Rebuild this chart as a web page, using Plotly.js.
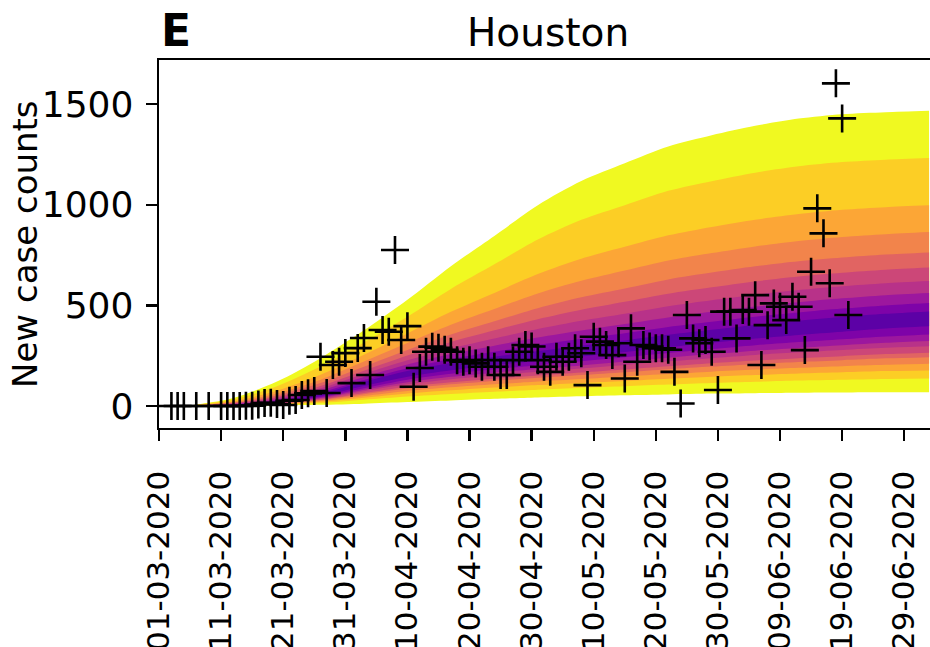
<!DOCTYPE html>
<html><head><meta charset="utf-8">
<script src="https://cdn.plot.ly/plotly-3.0.1.min.js"></script>
<style>html,body{margin:0;padding:0;background:#fff}</style>
</head><body><div id="chart" style="width:930px;height:647px"></div>
<script>
// band sample dates (weekly)
const bandDates = ['2020-03-06','2020-03-13','2020-03-20','2020-03-27','2020-04-03','2020-04-10','2020-04-17','2020-04-24','2020-05-01','2020-05-08','2020-05-15','2020-05-22','2020-05-29','2020-06-05','2020-06-12','2020-06-19','2020-06-26','2020-07-03'];
// upper band edges, outermost (1) to innermost (10)
const upper1 = [3,40,122,238,376,528,695,845,998,1118,1206,1289,1345,1392,1428,1450,1460,1467];
const upper2 = [2.4,32,99,196,316,444,582,704,827,925,998,1069,1117,1159,1191,1212,1224,1232];
const upper3 = [1.9,24,76,155,255,361,468,562,656,732,791,848,890,926,954,975,988,997];
const upper4 = [1.5,20,62,131,221,313,404,482,559,622,673,723,760,793,820,840,854,864];
const upper5 = [1.3,16,53,114,195,278,355,421,486,540,584,629,663,694,719,738,753,763];
const upper6 = [1.1,14,45,100,176,251,318,376,431,478,518,558,590,619,643,662,677,688];
const upper7 = [1.0,11,39,88,159,227,286,336,383,424,459,496,526,553,576,595,610,621];
const upper8 = [0.8,9.4,33,78,144,206,258,300,340,375,407,440,468,494,516,535,551,562];
const upper9 = [0.7,7.7,28,69,130,188,234,270,303,334,362,393,419,444,465,484,500,512];
const upper10 = [0.6,6.3,24,62,120,174,214,245,273,300,326,354,379,403,424,442,458,470];
// lower band edges, outermost (1) to innermost (10)
const lower1 = [0,1,3,6,12,20,28,36,43,49,54,58,62,64,66,67,68,68];
const lower2 = [0.1,1.8,6,15,31,47,60,71,81,91,99,107,115,121,127,131,135,137];
const lower3 = [0.15,2.2,8,21,41,62,78,92,104,115,125,136,146,154,162,168,174,177];
const lower4 = [0.2,2.6,10,25,50,75,93,108,122,134,147,159,171,181,190,198,205,210];
const lower5 = [0.24,2.9,11,30,59,87,108,125,140,154,168,183,196,208,219,228,237,243];
const lower6 = [0.27,3.2,12,32,65,96,118,136,152,167,182,198,213,226,238,248,258,265];
const lower7 = [0.32,3.5,14,37,74,108,133,153,170,187,204,222,238,254,267,279,290,297];
const lower8 = [0.35,3.8,15,40,81,118,145,166,184,202,221,240,258,275,289,302,314,323];
const lower9 = [0.4,4.2,16,45,89,131,160,183,203,222,242,263,283,302,318,332,346,356];
const lower10 = [0.45,4.6,18,50,100,146,178,203,225,246,268,292,314,335,353,369,385,396];
const bandColors = ['#f0f921','#fcce25','#fca636','#f2844b','#e16462','#cc4778','#b83289','#9c179e','#7e03a8','#5c01a6'];

// observed new case counts
const obsDates = ['2020-03-03','2020-03-04','2020-03-05','2020-03-07','2020-03-09',
'2020-03-11','2020-03-12','2020-03-13','2020-03-14','2020-03-15','2020-03-16','2020-03-17','2020-03-18','2020-03-19','2020-03-20',
'2020-03-21','2020-03-22','2020-03-23','2020-03-24','2020-03-25','2020-03-26','2020-03-27','2020-03-28','2020-03-29','2020-03-30','2020-03-31',
'2020-04-01','2020-04-02','2020-04-03','2020-04-04','2020-04-05','2020-04-06','2020-04-07','2020-04-08','2020-04-09','2020-04-10',
'2020-04-11','2020-04-12','2020-04-13','2020-04-14','2020-04-15','2020-04-16','2020-04-17','2020-04-18','2020-04-19','2020-04-20',
'2020-04-21','2020-04-22','2020-04-23','2020-04-24','2020-04-25','2020-04-26','2020-04-27','2020-04-28','2020-04-29','2020-04-30',
'2020-05-01','2020-05-02','2020-05-03','2020-05-04','2020-05-05','2020-05-06','2020-05-07','2020-05-08','2020-05-09','2020-05-10',
'2020-05-11','2020-05-12','2020-05-13','2020-05-14','2020-05-15','2020-05-16','2020-05-17','2020-05-18','2020-05-19','2020-05-20',
'2020-05-21','2020-05-22','2020-05-23','2020-05-24','2020-05-25','2020-05-26','2020-05-27','2020-05-28','2020-05-29','2020-05-30','2020-05-31',
'2020-06-01','2020-06-02','2020-06-03','2020-06-04','2020-06-05','2020-06-06','2020-06-07','2020-06-08','2020-06-09','2020-06-10',
'2020-06-11','2020-06-12','2020-06-13','2020-06-14','2020-06-15','2020-06-16','2020-06-17','2020-06-18','2020-06-19','2020-06-20'];
const obsCases = [0,0,0,0,0,
0,0,0,0,1,2,8,15,16,10,
5,26,30,55,63,75,245,65,204,220,263,
114,288,338,154,518,378,369,775,328,397,
96,189,270,295,290,280,270,228,220,228,
212,195,228,195,154,154,228,270,303,296,
228,195,170,245,220,245,287,262,104,344,
320,303,253,312,137,386,220,303,296,287,
287,280,170,13,452,336,312,328,270,80,469,
469,336,477,469,551,204,402,510,493,427,
543,493,278,667,982,858,610,1603,1429,452];

const tickDates = ['2020-03-01','2020-03-11','2020-03-21','2020-03-31','2020-04-10','2020-04-20','2020-04-30','2020-05-10','2020-05-20','2020-05-30','2020-06-09','2020-06-19','2020-06-29'];
const tickLabels = ['01-03-2020','11-03-2020','21-03-2020','31-03-2020','10-04-2020','20-04-2020','30-04-2020','10-05-2020','20-05-2020','30-05-2020','09-06-2020','19-06-2020','29-06-2020'];
const yTicks = [0,500,1000,1500];

const uppers = [upper1,upper2,upper3,upper4,upper5,upper6,upper7,upper8,upper9,upper10];
const lowers = [lower1,lower2,lower3,lower4,lower5,lower6,lower7,lower8,lower9,lower10];
const traces = [];
for (let k = 0; k < uppers.length; k++) {
  traces.push({x: bandDates, y: lowers[k], mode: 'lines', line: {width: 0, shape: 'spline', smoothing: 0.8}, hoverinfo: 'skip', showlegend: false});
  traces.push({x: bandDates, y: uppers[k], mode: 'lines', fill: 'tonexty', fillcolor: bandColors[k], line: {width: 0, shape: 'spline', smoothing: 0.8}, hoverinfo: 'skip', showlegend: false});
}
traces.push({x: obsDates, y: obsCases, mode: 'markers', showlegend: false,
  marker: {symbol: 'cross-thin', size: 20, color: '#000', line: {width: 2.6, color: '#000'}}});

const F = 'DejaVu Sans';
const layout = {
  width: 930, height: 647,
  margin: {l: 159, r: 0, t: 60, b: 219},
  paper_bgcolor: '#fff', plot_bgcolor: '#fff',
  font: {family: F, color: '#000', size: 34},
  showlegend: false,
  xaxis: {type: 'date', range: ['2020-03-01', '2020-07-03 03:36'],
    tickmode: 'array', tickvals: tickDates, ticktext: tickLabels, tickangle: -90,
    ticks: 'outside', ticklen: 11, tickwidth: 2.4, tickcolor: '#000',
    showline: true, linecolor: '#000', linewidth: 2.4, mirror: true,
    showgrid: false, zeroline: false, tickfont: {family: F, size: 31, color: '#000'},
    ticklabelstandoff: 17},
  yaxis: {range: [-109, 1719], tickmode: 'array', tickvals: yTicks, ticktext: yTicks.map(String),
    ticks: 'outside', ticklen: 11, tickwidth: 2.4, tickcolor: '#000',
    showline: true, linecolor: '#000', linewidth: 2.4, mirror: false,
    showgrid: false, zeroline: false, tickfont: {family: F, size: 36, color: '#000'},
    ticklabelstandoff: 5},
  annotations: [
    {text: 'Houston', xref: 'paper', yref: 'paper', x: 0.5045, y: 1.076, xanchor: 'center', yanchor: 'middle', showarrow: false, font: {family: F, size: 39, color: '#000'}},
    {text: '<b>E</b>', xref: 'paper', yref: 'paper', x: 0, y: 1.080, xanchor: 'left', yanchor: 'middle', showarrow: false, font: {family: F, size: 44, color: '#000'}},
    {text: 'New case counts', xref: 'paper', yref: 'paper', x: -0.1738, y: 0.5, xanchor: 'center', yanchor: 'middle', textangle: -90, showarrow: false, font: {family: F, size: 34, color: '#000'}}
  ]
};
Plotly.newPlot('chart', traces, layout, {displayModeBar: false, staticPlot: true});
</script></body></html>
